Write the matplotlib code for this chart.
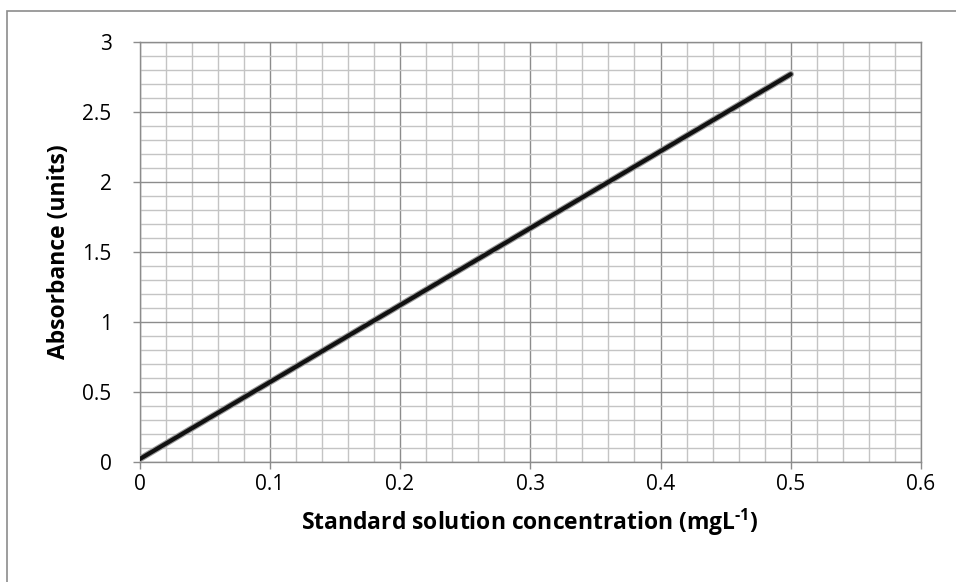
import matplotlib
matplotlib.use("Agg")
import matplotlib.pyplot as plt
from matplotlib.ticker import MultipleLocator
from matplotlib.patches import Rectangle

# calibration curve
concentration = [0.0, 0.1, 0.2, 0.3, 0.4, 0.5]
absorbance = [0.02, 0.57, 1.12, 1.67, 2.22, 2.77]

x_ticks = [0, 0.1, 0.2, 0.3, 0.4, 0.5, 0.6]
x_tick_labels = ["0", "0.1", "0.2", "0.3", "0.4", "0.5", "0.6"]
y_ticks = [0, 0.5, 1, 1.5, 2, 2.5, 3]
y_tick_labels = ["0", "0.5", "1", "1.5", "2", "2.5", "3"]

x_label = r"Standard solution concentration (mgL$^{\text{-1}}$)"
y_label = "Absorbance (units)"

plt.rcParams["font.family"] = ["Open Sans", "DejaVu Sans"]
plt.rcParams["mathtext.fontset"] = "custom"
plt.rcParams["mathtext.rm"] = "Open Sans:bold"
plt.rcParams["mathtext.bf"] = "Open Sans:bold"

W, H = 956, 582
fig = plt.figure(figsize=(W / 100, H / 100), dpi=100)

# outer chart border (only left and top edges fall inside the image)
fig.patches.append(Rectangle((7 / W, -0.1), 1.2, 1.1 - 11 / H,
                             transform=fig.transFigure, fill=False,
                             edgecolor="#8c8c8c", linewidth=1.2))

left, right = 139.5 / W, 921 / W
bottom, top = 1 - 462 / H, 1 - 42 / H
ax = fig.add_axes([left, bottom, right - left, top - bottom])

major_c = "#8c8c8c"
minor_c = "#c4c4c4"

ax.set_xlim(0, 0.6)
ax.set_ylim(0, 3)
ax.xaxis.set_minor_locator(MultipleLocator(0.02))
ax.yaxis.set_minor_locator(MultipleLocator(0.1))
ax.set_xticks(x_ticks)
ax.set_xticklabels(x_tick_labels)
ax.set_yticks(y_ticks)
ax.set_yticklabels(y_tick_labels)
ax.grid(True, which="minor", color=minor_c, linewidth=1.0, zorder=0)
ax.grid(True, which="major", color=major_c, linewidth=1.0, zorder=0)
ax.set_axisbelow(True)

for s in ax.spines.values():
    s.set_color(major_c)
    s.set_linewidth(1.0)

ax.tick_params(which="major", direction="out", length=5, width=1.0,
               color=major_c, labelsize=15, labelcolor="black")
ax.tick_params(axis="x", pad=4)
ax.tick_params(axis="y", pad=15)
ax.tick_params(which="minor", length=0)

# soft gray halo beneath the black line
ax.plot(concentration, absorbance, color="#9a9a9a", linewidth=4.6,
        solid_capstyle="round", zorder=3)
ax.plot(concentration, absorbance, color="#111111", linewidth=3.0,
        solid_capstyle="round", zorder=4)

ax.set_xlabel(x_label, fontsize=16.5, fontweight="bold", labelpad=8)
ax.set_ylabel(y_label, fontsize=16.5, fontweight="bold", labelpad=8)

fig.savefig("out.png", dpi=100)
